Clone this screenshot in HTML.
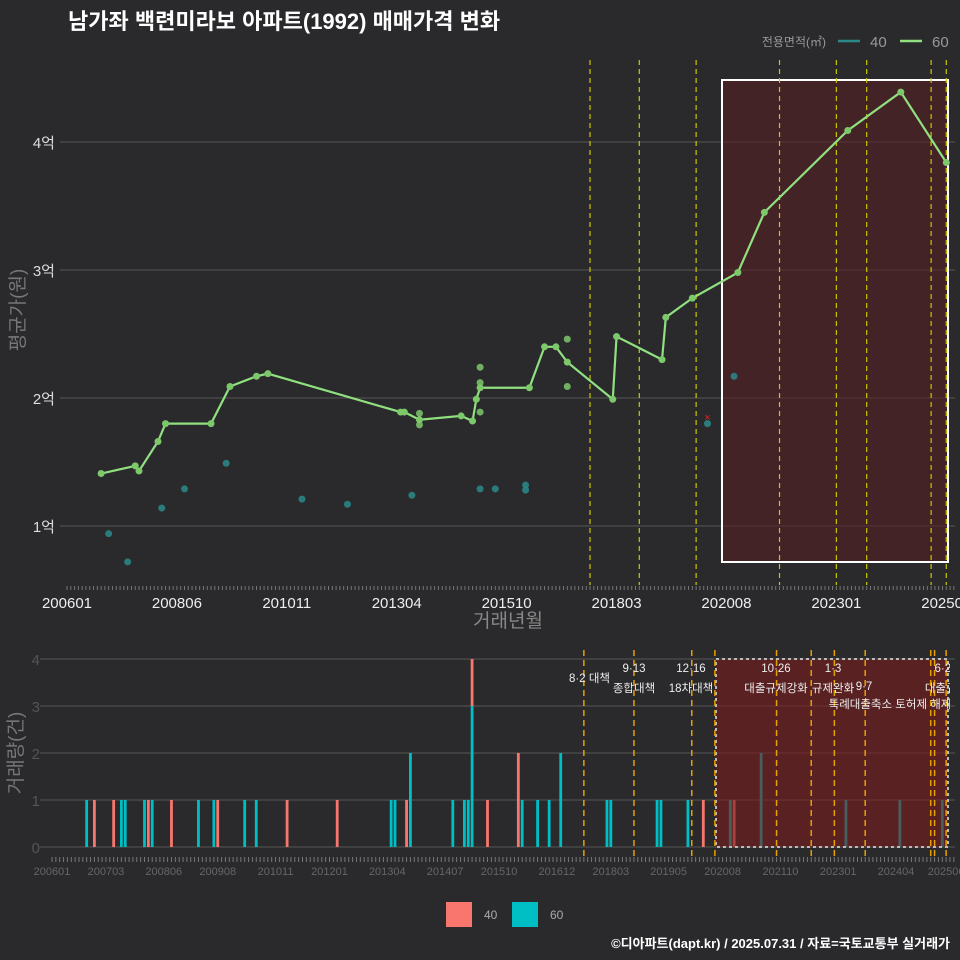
<!DOCTYPE html>
<html><head><meta charset="utf-8"><style>
body{margin:0;background:#2a2a2c;}
svg{display:block;font-family:"Liberation Sans","Noto Sans CJK KR",sans-serif;}
</style></head><body>
<svg id="c" width="960" height="960" viewBox="0 0 960 960">
<rect width="960" height="960" fill="#2a2a2c"/>
<text x="68" y="29" fill="#fff" font-size="22" font-weight="bold">남가좌 백련미라보 아파트(1992) 매매가격 변화</text>
<g>
<text x="826" y="46" fill="#999" font-size="12" text-anchor="end">전용면적(㎡)</text>
<line x1="838" y1="41" x2="860" y2="41" stroke="#2a8a8a" stroke-width="2.5"/>
<text x="870" y="47" fill="#999" font-size="15">40</text>
<line x1="900" y1="41" x2="922" y2="41" stroke="#90e080" stroke-width="2.5"/>
<text x="932" y="47" fill="#999" font-size="15">60</text>
</g>
<g id="topPanel"></g>
<g id="botPanel"></g>
<text x="508" y="627" fill="#888" font-size="19" text-anchor="middle">거래년월</text>
<text transform="translate(24,310) rotate(-90)" fill="#777" font-size="19" text-anchor="middle">평균가(원)</text>
<text transform="translate(22,753) rotate(-90)" fill="#777" font-size="19" text-anchor="middle">거래량(건)</text>
<g>
<rect x="446" y="902" width="26" height="25" fill="#f8766d"/>
<text x="484" y="919" fill="#aaa" font-size="12">40</text>
<rect x="512" y="902" width="26" height="25" fill="#00bfc4"/>
<text x="550" y="919" fill="#aaa" font-size="12">60</text>
</g>
<text x="950" y="948" fill="#fff" font-size="13" font-weight="bold" text-anchor="end">©디아파트(dapt.kr) / 2025.07.31 / 자료=국토교통부 실거래가</text>
</svg>
<script>
// months since 2006-01
const line60M=[9,18,19,24,26,38,43,50,53,88,89,93,104,107,108,109,122,126,129,132,144,145,157,158,165,177,184,206,220,232];
const line60V=[1.41,1.47,1.43,1.66,1.80,1.80,2.09,2.17,2.19,1.89,1.89,1.83,1.86,1.82,1.99,2.08,2.08,2.40,2.40,2.28,1.99,2.48,2.30,2.63,2.78,2.98,3.45,4.09,4.39,3.84];
const pts60M=[93,93,109,109,109,132,132];
const pts60V=[1.88,1.79,2.24,2.12,1.89,2.46,2.09];
const pts40M=[11,16,25,31,42,62,74,91,109,113,121,121,169,176];
const pts40V=[0.94,0.72,1.14,1.29,1.49,1.21,1.17,1.24,1.29,1.29,1.32,1.28,1.80,2.17];
const bar40M=[11,16,25,31,43,61,74,92,109,113,121,169,177];
const bar40C=[1,1,1,1,1,1,1,1,1,1,2,1,1];
const bar60M=[9,18,19,24,26,38,42,50,53,88,89,93,104,107,108,109,122,126,129,132,144,145,157,158,165,176,184,206,220,231];
const bar60C=[1,1,1,1,1,1,1,1,1,1,1,2,1,1,1,3,1,1,1,2,1,1,1,1,1,1,2,1,1,1];
const policyM=[138,151,166,172,188,197,203,211,228,229,232];
const topPolicyM=[138,151,166,188,203,211,228,232];
const topLabels=["200601","200806","201011","201304","201510","201803","202008","202301","202506"];
const topLabelM=[0,29,58,87,116,145,174,203,232];
const botLabels=["200601","200703","200806","200908","201011","201201","201304","201407","201510","201612","201803","201905","202008","202110","202301","202404","202506"];
const botLabelM=[0,14,29,43,58,72,87,102,116,131,145,160,174,189,204,219,232];
const yTicks=[1,2,3,4];
const yTickLabels=["1억","2억","3억","4억"];
const cTicks=[0,1,2,3,4];

const NS="http://www.w3.org/2000/svg";
function mk(p,t,a){const e=document.createElementNS(NS,t);for(const k in a)e.setAttribute(k,a[k]);p.appendChild(e);return e;}
const xT=m=>67+m*3.79, yT=v=>526-(v-1)*128;
const xB=m=>52+m*3.854, yB=c=>847-c*47;
const topG=document.getElementById('topPanel'), botG=document.getElementById('botPanel');

yTicks.forEach((v,i)=>{
 let g=mk(topG,'line',{x1:60,x2:955,y1:yT(v),y2:yT(v),stroke:'#555','stroke-width':1});
 
 
 let t=mk(topG,'text',{x:55,y:yT(v)+6,fill:'#ddd','font-size':15,'text-anchor':'end'});t.textContent=yTickLabels[i];
 
 
});
let r=mk(topG,'rect',{x:722,y:80,width:226,height:482,fill:'#5a1e24','fill-opacity':0.55,stroke:'#fff','stroke-width':2});


topPolicyM.forEach(m=>{
 let l=mk(topG,'line',{x1:xT(m),x2:xT(m),y1:60,y2:585,stroke:'#c8c800','stroke-width':1.2,'stroke-dasharray':'5,4'});
 
 
});
for(let m=0;m<=234;m++){
 let l=mk(topG,'line',{x1:xT(m),x2:xT(m),y1:586,y2:590,stroke:'#777','stroke-width':1});
 
 
 let l2=mk(botG,'line',{x1:xB(m),x2:xB(m),y1:857,y2:862,stroke:'#777','stroke-width':1});
 
 
}
topLabels.forEach((s,i)=>{
 let t=mk(topG,'text',{x:xT(topLabelM[i]),y:608,fill:'#eee','font-size':15,'text-anchor':'middle'});t.textContent=s;
 
 
});
pts40M.forEach((m,i)=>{
 let c=mk(topG,'circle',{cx:xT(m),cy:yT(pts40V[i]),r:3.5,fill:'#2a8a8a','fill-opacity':0.85});
 
 
});
let xm=mk(topG,'text',{x:xT(169),y:yT(1.85)+4,fill:'#e02020','font-size':11,'text-anchor':'middle'});xm.textContent='×';


pts60M.forEach((m,i)=>{
 let c=mk(topG,'circle',{cx:xT(m),cy:yT(pts60V[i]),r:3.5,fill:'#7cc86a','fill-opacity':0.85});
 
 
});
let pl=mk(topG,'polyline',{points:line60M.map((m,i)=>xT(m)+','+yT(line60V[i])).join(' '),fill:'none',stroke:'#90e080','stroke-width':2.2});


line60M.forEach((m,i)=>{
 let c=mk(topG,'circle',{cx:xT(m),cy:yT(line60V[i]),r:3.5,fill:'#7cc86a'});
 
 
});

cTicks.forEach(c=>{
 let g=mk(botG,'line',{x1:40,x2:955,y1:yB(c),y2:yB(c),stroke:'#555','stroke-width':1});
 
 
 let t=mk(botG,'text',{x:40,y:yB(c)+6,fill:'#555','font-size':15,'text-anchor':'end'});t.textContent=c;
 
 
});
bar60M.forEach((m,i)=>{
 let b=mk(botG,'rect',{x:xB(m)-1.4,y:yB(bar60C[i]),width:2.8,height:bar60C[i]*47,fill:'#00bfc4'});
 
 
});
bar40M.forEach((m,i)=>{
 const base=bar60M.includes(m)?bar60C[bar60M.indexOf(m)]:0;
 let b=mk(botG,'rect',{x:xB(m)-1.4,y:yB(base+bar40C[i]),width:2.8,height:bar40C[i]*47,fill:'#f8766d'});
 
 
});
let r2=mk(botG,'rect',{x:716,y:659,width:232,height:188,fill:'#7a1c1c','fill-opacity':0.6,stroke:'#bbb','stroke-width':2,'stroke-dasharray':'3,3'});


policyM.forEach(m=>{
 let l=mk(botG,'line',{x1:xB(m),x2:xB(m),y1:650,y2:857,stroke:'#e6a000','stroke-width':1.5,'stroke-dasharray':'6,4'});
 
 
});
const pLab=[["8·2 대책",610,682,"end"],["9·13",634,672,"middle"],["종합대책",634,692,"middle"],["12·16",691,672,"middle"],["18차대책",691,692,"middle"],["10·26",776,672,"middle"],["대출규제강화",776,692,"middle"],["1·3",833,672,"middle"],["규제완화",833,692,"middle"],["9·7",864,690,"middle"],["특례대출축소 토허제 해제",890,708,"middle"],["6·27",946,672,"middle"],["대출규제",946,692,"middle"]];
const cp=mk(botG,'clipPath',{id:'cp'});mk(cp,'rect',{x:0,y:640,width:950,height:100});
const lg=mk(botG,'g',{'clip-path':'url(#cp)'});
pLab.forEach(p=>{
 let t=mk(lg,'text',{x:p[1],y:p[2],fill:'#eee','font-size':11.5,'text-anchor':p[3]});t.textContent=p[0];
 
 
});
botLabels.forEach((s,i)=>{
 let t=mk(botG,'text',{x:xB(botLabelM[i]),y:875,fill:'#666','font-size':11,'text-anchor':'middle'});t.textContent=s;
 
 
});
</script>
</body></html>
